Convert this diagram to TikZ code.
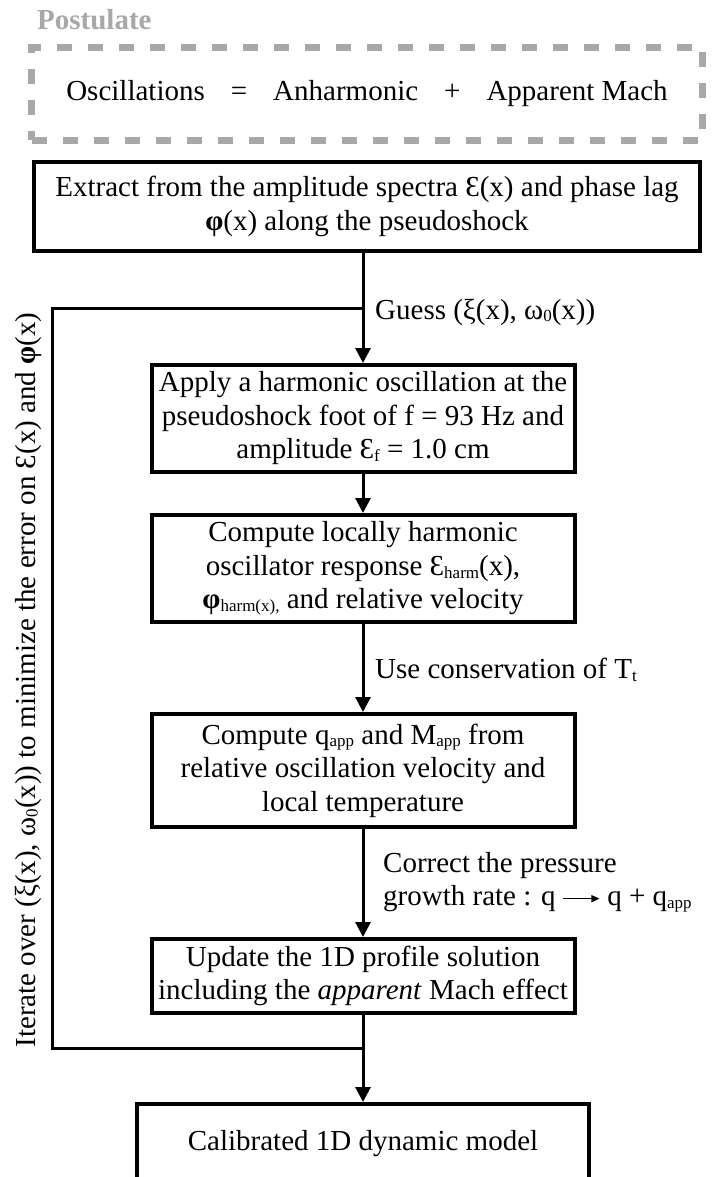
\documentclass[tikz,border=0pt]{standalone}
\usepackage{fontspec}
\setmainfont{Liberation Serif}
\usetikzlibrary{arrows.meta,positioning}
\definecolor{postgray}{RGB}{168,168,168}
\newcommand{\sbs}[1]{\raisebox{-0.2ex}{\fontsize{17}{17}\selectfont #1}}
\newcommand{\qarrow}{\tikz[baseline=-7pt]\draw[-{Triangle[width=7pt,length=8pt]},line width=1.3pt] (0pt,0pt) -- (36pt,0pt);}

\begin{document}
\begin{tikzpicture}[
    x=1pt, y=-1pt,
    stepbox/.style={rectangle, draw, line width=4pt, align=center, inner sep=2pt, minimum width=423pt, font=\fontsize{29}{33.5}\selectfont},
    postbox/.style={rectangle, draw=postgray, line width=7pt, dash pattern=on 15pt off 16pt, minimum width=671pt, minimum height=93pt, font=\fontsize{29}{33.5}\selectfont},
    lbl/.style={anchor=west, align=left, inner sep=0pt, font=\fontsize{29}{33.5}\selectfont},
    arrow/.style={-{Triangle[width=15pt,length=15pt]}, line width=3pt},
    link/.style={line width=3pt}
]
    \useasboundingbox (0,0) rectangle (715,1177);

    % postulate
    \node[anchor=base west, inner sep=0pt, text=postgray, font=\fontsize{29}{33.5}\selectfont\bfseries] (postlbl) at (37,30) {Postulate};
    \node[postbox] (post) at (367,94) {Oscillations\hspace{26pt}=\hspace{26pt}Anharmonic\hspace{26pt}+\hspace{26pt}Apparent Mach};

    % main chain
    \node[stepbox, minimum width=666pt, minimum height=89pt] (extract) at (367,206.5) {Extract from the amplitude spectra Ɛ(x) and phase lag\\\textbf{φ}(x) along the pseudoshock};
    \node[stepbox, minimum height=107pt, below=110pt of extract, xshift=-4pt] (apply) {Apply a harmonic oscillation at the\\pseudoshock foot of f = 93 Hz and\\amplitude Ɛ\sbs{f} = 1.0 cm};
    \node[stepbox, minimum height=107pt, below=39pt of apply] (harm) {Compute locally harmonic\\oscillator response Ɛ\sbs{harm}(x),\\\textbf{φ}\sbs{harm(x),} and relative velocity};
    \node[stepbox, minimum height=113pt, below=88pt of harm] (qapp) {Compute q\sbs{app} and M\sbs{app} from\\relative oscillation velocity and\\local temperature};
    \node[stepbox, minimum height=74pt, below=108pt of qapp] (update) {Update the 1D profile solution\\including the \textit{apparent} Mach effect};
    \node[stepbox, minimum width=452pt, minimum height=80pt, below=87pt of update] (calib) {Calibrated 1D dynamic model};

    % labels
    \node[lbl] (guess) at (375,312) {Guess (ξ(x), ω\sbs{0}(x))};
    \node[lbl] (uselbl) at (375,670) {Use conservation of T\sbs{t}};
    \node[lbl] (corrlbl) at (383,882) {Correct the pressure\\growth rate : q \qarrow{} q + q\sbs{app}};
    \node[lbl, anchor=center, rotate=90] (iterlbl) at (28,680) {Iterate over (ξ(x), ω\sbs{0}(x)) to minimize the error on Ɛ(x) and \textbf{φ}(x)};

    % arrows
    \draw[arrow] (extract.south -| apply.north) -- (apply.north);
    \draw[arrow] (apply) -- (harm);
    \draw[arrow] (harm) -- (qapp);
    \draw[arrow] (qapp) -- (update);
    \draw[arrow] (update) -- (calib);

    % iteration loop
    \coordinate (jtop) at (apply.north |- 0,308);
    \coordinate (jbot) at (update.south |- 0,1048);
    \coordinate (ltop) at (52,308);
    \coordinate (lbot) at (52,1048);
    \draw[link] (jbot) -- (lbot) -- (ltop) -- (jtop);
\end{tikzpicture}
\end{document}
